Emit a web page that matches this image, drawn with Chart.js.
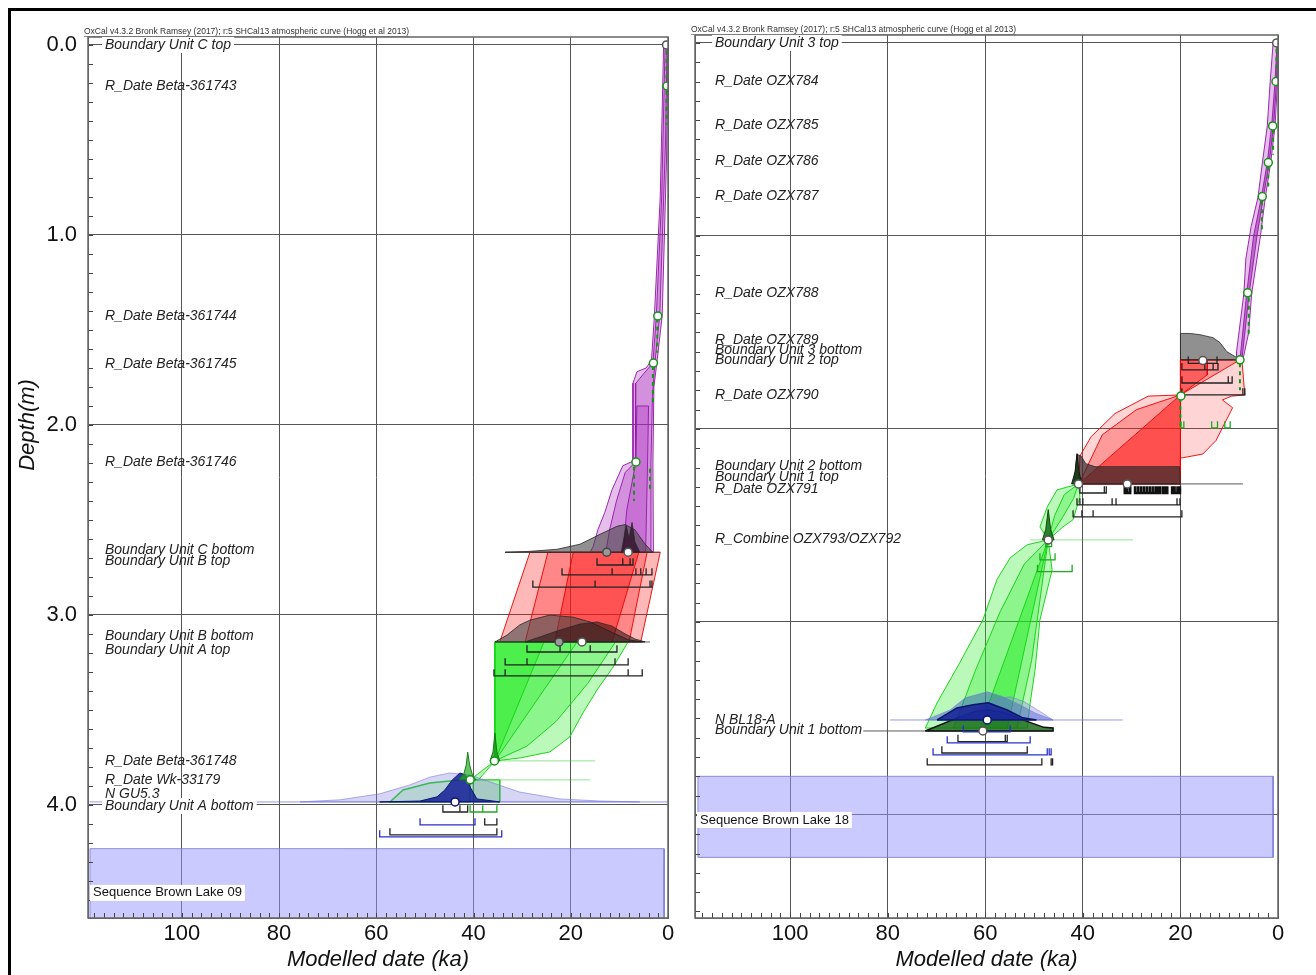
<!DOCTYPE html>
<html>
<head>
<meta charset="utf-8">
<script src="https://cdn.jsdelivr.net/npm/chart.js@4.4.1/dist/chart.umd.min.js"></script>
<style>
  html, body { margin: 0; padding: 0; background: #fff; overflow: hidden; }
  #frame { position: absolute; left: 8px; top: 8px; width: 1320px; height: 980px; border-left: 3px solid #000; border-top: 3px solid #000; }
  #wrapL { position: absolute; left: 0; top: 0; width: 680px; height: 975px; }
  #wrapR { position: absolute; left: 680px; top: 0; width: 636px; height: 975px; }
</style>
</head>
<body>
<div id="frame"></div>
<div id="wrapL"><canvas id="chartL"></canvas></div>
<div id="wrapR"><canvas id="chartR"></canvas></div>
<script>
const FONT = '"Liberation Sans", Arial, sans-serif';
const HEADER = 'OxCal v4.3.2 Bronk Ramsey (2017); r:5 SHCal13 atmospheric curve (Hogg et al 2013)';

// ---------- Brown Lake 09 (left panel) : [ka, depth m] ----------
const bl09Names = ['Boundary Unit C top', 'R_Date Beta-361743', 'R_Date Beta-361744', 'R_Date Beta-361745',
  'R_Date Beta-361746', 'Boundary Unit C bottom', 'Boundary Unit B top', 'Boundary Unit B bottom',
  'Boundary Unit A top', 'R_Date Beta-361748', 'R_Date Wk-33179', 'N GU5.3', 'Boundary Unit A bottom'];
const bl09NameDepth = [0.0, 0.216, 1.426, 1.679, 2.195, 2.658, 2.716, 3.111, 3.184, 3.768, 3.868, 3.942, 4.005];
const bl09SeqName = 'Sequence Brown Lake 09';
const bl09SeqDepth = 4.463;
const bl09Seq = [[118.9, 4.23], [0.8, 4.23], [0.8, 4.62], [118.9, 4.62]];

const bl09Purple95 = [[0, 0], [0.9, 0], [1.6, 0.8], [2.8, 1.426], [3.4, 1.66], [4.5, 1.70], [6.4, 1.72], [7.2, 1.78],
  [7.2, 2.19], [9.3, 2.215], [11.5, 2.34], [13.0, 2.46], [14.4, 2.55], [15.4, 2.64], [16.0, 2.67], [3.0, 2.67],
  [3.1, 2.2], [2.9, 1.8], [2.3, 1.674], [1.2, 1.426], [0.3, 0.6]];
const bl09Purple68 = [[0.2, 0], [0.6, 0], [1.3, 0.8], [2.4, 1.426], [3.1, 1.674], [5.0, 1.73], [6.6, 1.78], [6.7, 2.195],
  [8.8, 2.25], [10.6, 2.4], [12.0, 2.55], [12.8, 2.67], [3.6, 2.67], [3.5, 2.195], [3.2, 1.85], [2.7, 1.674],
  [1.7, 1.426], [0.5, 0.5]];
const bl09PurpleCore = [[6.4, 1.9], [6.6, 2.195], [8.5, 2.45], [9.2, 2.67], [4.6, 2.67], [4.2, 2.195], [4.0, 1.9]];

const bl09Red95 = [[28.4, 2.67], [1.6, 2.67], [5.6, 3.142], [34.6, 3.142]];
const bl09Red68 = [[24.7, 2.67], [4.3, 2.67], [8.0, 3.142], [29.4, 3.142]];
const bl09RedCore = [[19.5, 2.67], [6.0, 2.67], [11.5, 3.142], [23.3, 3.142]];

const bl09Green95 = [[35.6, 3.142], [8.2, 3.142], [11.3, 3.274], [14.6, 3.395], [17.5, 3.516], [20.2, 3.642],
  [24.3, 3.721], [30.5, 3.753], [35.6, 3.768]];
const bl09Green68 = [[35.6, 3.142], [10.8, 3.142], [16.5, 3.36], [23, 3.56], [29, 3.69], [35.6, 3.768]];
const bl09GreenCore = [[35.6, 3.142], [18.7, 3.142], [35.6, 3.768]];
const bl09GreenInner = [[35.6, 3.142], [25.5, 3.142], [35.6, 3.768]];
const bl09GreenLink = [[35.6, 3.768], [40.7, 3.868], [39.0, 3.868]];
const bl09GreenLow = [[40.7, 3.868], [43.4, 3.87], [49.0, 3.884], [54.5, 3.921], [57.2, 3.984], [40.7, 3.984]];
const bl09GreenBox = [[40.1, 3.868], [34.6, 3.868], [34.6, 3.984], [40.1, 3.984]];

// distributions: [ka, relative density]
const bl09DistCB = [[33.5, 0], [28.4, 0.03], [22.8, 0.1], [18.1, 0.27], [14.0, 0.6], [10.5, 0.87], [8.8, 0.93],
  [6.8, 0.75], [4.7, 0.27], [3.1, 0]];
const bl09DistCBdark = [[9.6, 0], [8.6, 0.9], [8.0, 0.45], [7.4, 1.0], [6.8, 0.35], [5.8, 0]];
const bl09DistBA1 = [[35.6, 0], [33.1, 0.23], [30.5, 0.57], [28.4, 0.73], [24.3, 0.9], [19.5, 0.83], [16.0, 0.67],
  [12.6, 0.4], [9.9, 0.2], [8.2, 0.07], [5.1, 0]];
const bl09DistBA2 = [[29.4, 0], [26.3, 0.17], [22.2, 0.4], [18.1, 0.6], [14.6, 0.67], [11.5, 0.53], [8.8, 0.27],
  [6.8, 0.1], [4.7, 0]];
const bl09DistWide = [[75.7, 0], [67.5, 0.07], [59.3, 0.27], [53.1, 0.57], [49.0, 0.83], [44.9, 0.97], [40.7, 0.9],
  [36.6, 0.67], [30.5, 0.33], [22.2, 0.1], [14.0, 0.03], [5.8, 0]];
const bl09DistNavy = [[59.3, 0], [51.0, 0.03], [47.5, 0.17], [45.9, 0.4], [44.4, 0.73], [42.8, 0.97], [41.6, 0.9],
  [40.7, 0.5], [39.3, 0.1], [34.6, 0]];
const bl09SpikeA = [[36.6, 0], [36.0, 0.3], [35.6, 0.93], [35.2, 0.3], [34.6, 0]];
const bl09SpikeB = [[43.0, 0], [42.0, 0.2], [41.5, 0.5], [41.2, 0.93], [40.8, 0.5], [40.2, 0.15], [39.5, 0]];
const bl09Base = [2.67, 3.142, 3.768, 3.868, 3.984];

const bl09GreyLines = [[[33.5, 2.67], [1.6, 2.67]], [[35.6, 3.142], [3.7, 3.142]]];
const bl09BlueLine = [[[119, 3.984], [0, 3.984]]];
const bl09ThinGreen = [[[35.6, 3.768], [15.0, 3.768]], [[40.7, 3.868], [16.0, 3.868]]];
const bl09Dashes = [[0.3, 0.03, 0.42], [2.2, 1.44, 1.62], [3.1, 1.69, 1.88], [7.0, 2.22, 2.40], [3.7, 2.23, 2.34]];

// ranges: [depth, from ka, to ka]
const bl09RangesBlack = [
  [2.737, 14.6, 9.3], [2.737, 9.3, 7.8], [2.737, 7.8, 7.2],
  [2.789, 21.8, 11.5], [2.789, 11.5, 6.6], [2.789, 6.6, 5.6], [2.789, 5.6, 4.5], [2.789, 4.5, 3.3],
  [2.853, 27.8, 15.0], [2.853, 15.0, 3.7], [2.853, 3.7, 3.3],
  [3.195, 29.0, 22.2], [3.195, 22.2, 16.0], [3.195, 16.0, 10.5],
  [3.263, 33.5, 29.0], [3.263, 29.0, 10.9], [3.263, 10.9, 8.2],
  [3.321, 35.8, 33.5], [3.321, 33.5, 8.2], [3.321, 8.2, 5.3],
  [4.037, 46.3, 42.8], [4.037, 42.8, 41.2], [4.105, 37.7, 35.2], [4.158, 57.2, 35.2]];
const bl09RangesBlue = [[4.105, 51.0, 39.7], [4.168, 59.3, 34.2]];
const bl09RangesGreen = [[4.037, 40.7, 38.1], [4.037, 38.1, 35.2]];

const bl09PtsRdate = [[0.2, 0.216], [2.1, 1.426], [3.0, 1.674], [6.6, 2.195], [35.7, 3.768], [40.7, 3.868]];
const bl09PtsBound = [[0.3, 0.0], [8.2, 2.67], [17.7, 3.142]];
const bl09PtsBoundDark = [[12.6, 2.67], [22.4, 3.142]];
const bl09PtsN = [[43.8, 3.984]];

// ---------- Brown Lake 18 (right panel) ----------
const bl18Names = ['Boundary Unit 3 top', 'R_Date OZX784', 'R_Date OZX785', 'R_Date OZX786', 'R_Date OZX787',
  'R_Date OZX788', 'R_Date OZX789', 'Boundary Unit 3 bottom', 'Boundary Unit 2 top', 'R_Date OZX790',
  'Boundary Unit 2 bottom', 'Boundary Unit 1 top', 'R_Date OZX791', 'R_Combine OZX793/OZX792', 'N BL18-A',
  'Boundary Unit 1 bottom'];
const bl18NameDepth = [0.0, 0.197, 0.425, 0.611, 0.793, 1.295, 1.539, 1.591, 1.642, 1.824, 2.192, 2.249, 2.311,
  2.570, 3.508, 3.56];
const bl18SeqName = 'Sequence Brown Lake 18';
const bl18SeqDepth = 4.026;
const bl18Seq = [[118.9, 3.80], [1.0, 3.80], [1.0, 4.22], [118.9, 4.22]];

const bl18Purple95 = [[0, 0], [1.0, 0], [1.6, 0.2], [2.2, 0.43], [3.2, 0.62], [4.1, 0.8], [5.5, 0.95], [6.6, 1.12],
  [7.0, 1.3], [8.5, 1.6], [8.5, 1.642], [7.2, 1.642], [6.0, 1.5], [5.4, 1.3], [3.6, 1.0], [2.6, 0.8], [1.5, 0.62],
  [0.6, 0.43], [0.1, 0.2]];
const bl18Purple68 = [[0.2, 0], [0.6, 0.2], [1.3, 0.43], [2.2, 0.62], [3.4, 0.8], [5.0, 1.0], [6.4, 1.295],
  [7.8, 1.642], [7.4, 1.642], [5.9, 1.295], [4.3, 1.0], [3.0, 0.8], [1.8, 0.62], [0.9, 0.43], [0.3, 0.2], [0.1, 0]];

const bl18RedOuter = [[20, 1.642], [7.4, 1.642], [6.8, 1.824], [9.5, 1.83], [11.4, 1.85], [9.3, 1.89], [12.7, 2.06],
  [15.4, 2.13], [19.6, 2.15], [20, 2.15], [20, 2.285], [40.8, 2.285], [40.6, 2.14], [38.3, 2.04], [33.4, 1.92],
  [26.6, 1.83], [20, 1.824]];
const bl18RedUpper = [[20, 1.642], [7.8, 1.642], [20, 1.824]];
const bl18RedUpperCore = [[20, 1.642], [14.5, 1.642], [14.5, 1.72], [20, 1.824]];
const bl18RedLower = [[20, 1.824], [29, 1.9], [36, 2.03], [40.8, 2.285], [20, 2.285]];
const bl18RedLowerCore = [[20, 1.824], [40.8, 2.285], [20, 2.285]];

const bl18GreenTop95 = [[40.9, 2.285], [45.3, 2.316], [47.3, 2.404], [48.8, 2.508], [47.1, 2.575], [44.1, 2.508],
  [42.0, 2.47], [40.6, 2.352]];
const bl18GreenTop68 = [[40.9, 2.285], [43.8, 2.34], [45.8, 2.45], [47.1, 2.575], [44.2, 2.46], [41.9, 2.36]];
const bl18Green95 = [[47.1, 2.575], [51.4, 2.60], [54.9, 2.668], [57.6, 2.78], [60.5, 2.99], [65.2, 3.21],
  [69.9, 3.42], [72.3, 3.55], [51.4, 3.55], [50.8, 3.42], [49.8, 3.25], [48.8, 2.99], [46.3, 2.73]];
const bl18Green68 = [[47.1, 2.575], [52, 2.7], [57, 2.95], [62, 3.25], [66.5, 3.55], [53.5, 3.55], [50.5, 3.2]];
const bl18GreenCore = [[47.1, 2.575], [61.1, 3.55], [55.5, 3.55]];

const bl18DistU2top = [[20.0, 0], [20.0, 0.87], [18.0, 0.87], [16.0, 0.83], [13.3, 0.73], [11.9, 0.57], [10.5, 0.27],
  [8.4, 0.07], [7.4, 0]];
const bl18DistU2bot = [[41.8, 0], [41.2, 0.97], [40.4, 0.93], [39.4, 0.67], [37.5, 0.57], [30, 0.57], [22, 0.57],
  [20.2, 0.57], [20.0, 0]];
const bl18SpikeU1 = [[42.3, 0], [41.6, 0.4], [41.2, 1.0], [40.8, 0.4], [40.2, 0]];
const bl18SpikeComb = [[48.3, 0], [47.6, 0.35], [47.1, 1.0], [46.6, 0.35], [45.9, 0]];
const bl18DistBlueA = [[72.3, 0], [67.2, 0.33], [64.1, 0.73], [59.6, 0.93], [56.4, 0.77], [52.9, 0.5], [49.8, 0.23],
  [46.1, 0]];
const bl18DistBlueB = [[66, 0], [62, 0.35], [57, 0.7], [54.9, 0.77], [52, 0.6], [49, 0.3], [46.1, 0]];
const bl18DistNavy = [[69.9, 0], [65.8, 0.4], [62.5, 0.5], [59.4, 0.57], [55.5, 0.33], [52.3, 0.07], [49.5, 0]];
const bl18DistBottom = [[72.3, 0], [67, 0.35], [62, 0.65], [59.6, 0.7], [56, 0.6], [52, 0.35], [48, 0.12],
  [46.1, 0.1], [46.1, 0]];
const bl18Base = [1.642, 2.285, 2.575, 3.508, 3.565];

const bl18GreyLines = [[[19.7, 1.642], [7.2, 1.642]], [[41.2, 2.285], [7.2, 2.285]], [[85, 3.565], [46.1, 3.565]]];
const bl18BlueLine = [[[79.5, 3.508], [31.8, 3.508]]];
const bl18ThinGreen = [[[50.8, 2.575], [29.7, 2.575]]];
const bl18Dashes = [[0.3, 0.03, 0.16], [1.0, 0.45, 0.58], [2.0, 0.64, 0.76], [3.3, 0.82, 0.98], [6.0, 1.32, 1.52],
  [7.8, 1.66, 1.80], [20, 1.84, 2.0]];

const bl18RangesBlack = [
  [1.66, 18.4, 15.4], [1.66, 15.4, 12.5],
  [1.694, 19.7, 15.0], [1.694, 15.0, 13.3], [1.694, 13.3, 12.3],
  [1.762, 19.7, 10.2], [1.762, 10.2, 9.4],
  [1.824, 19.7, 7.2], [1.824, 7.2, 6.8],
  [2.332, 40.6, 35.6], [2.332, 35.6, 35.2],
  [2.394, 41.2, 40.6], [2.394, 40.6, 40.0], [2.394, 40.0, 34.0], [2.394, 34.0, 33.2], [2.394, 33.2, 20.7], [2.394, 20.7, 20.1],
  [2.456, 42.0, 40.2], [2.456, 40.2, 37.9], [2.456, 37.9, 19.7],
  [3.62, 65.6, 55.9], [3.62, 55.9, 55.5], [3.679, 68.9, 51.4], [3.741, 71.9, 48.4], [3.741, 46.5, 46.2]];
const bl18DenseDepth = 2.332;
const bl18DenseTicks = [[31.4, 30.9, 30.3], [29.3, 28.7, 28.1, 27.5, 26.9, 26.3, 25.7, 25.1, 24.6, 24.2],
  [23.6, 23.1, 22.7], [21.7, 21.2, 20.6, 20.1]];
const bl18RangesBlue = [[3.57, 64.5, 54.9], [3.627, 67.8, 50.8], [3.689, 70.7, 47.3], [3.689, 46.9, 46.5]];
const bl18RangesGreen = [[2.61, 47.6, 46.4], [2.679, 48.8, 45.7], [2.739, 49.3, 42.2],
  [1.995, 19.9, 19.3], [1.995, 13.6, 12.4], [1.995, 10.9, 9.8]];

const bl18PtsRdate = [[0.41, 0.2], [1.09, 0.43], [1.99, 0.62], [3.22, 0.796], [6.21, 1.295], [7.79, 1.642], [19.9, 1.829]];
const bl18PtsBound = [[0.27, 0.0], [15.4, 1.646], [40.9, 2.285], [30.9, 2.285], [47.1, 2.575], [60.5, 3.565]];
const bl18PtsN = [[59.6, 3.508]];

// ---------- helpers ----------
const DIST_H = 0.157;
const TICK_H = 0.035;

const toPts = pairs => pairs.map(([x, y]) => ({x, y}));
const closed = pairs => toPts(pairs.concat([pairs[0]]));
function distShape(pairs, base) {
  const top = pairs.map(([x, p]) => [x, base - p * DIST_H]);
  return closed(top.concat([[pairs[pairs.length - 1][0], base], [pairs[0][0], base]]));
}
function rangePath(rows) {
  const out = [];
  rows.forEach(([d, a, b]) => {
    out.push({x: a, y: d - TICK_H}, {x: a, y: d}, {x: b, y: d}, {x: b, y: d - TICK_H}, {x: b, y: null});
  });
  return out;
}
function segPath(segs) {
  const out = [];
  segs.forEach(s => { s.forEach(([x, y]) => out.push({x, y})); out.push({x: s[0][0], y: null}); });
  return out;
}
function dashPath(rows) {
  return segPath(rows.map(([k, d1, d2]) => [[k, d1], [k, d2]]));
}
function denseRows(depth, groups) {
  const rows = [];
  groups.forEach(g => g.slice(1).forEach((t, i) => rows.push([depth, g[i], t])));
  return rows;
}

const area = (data, fill, line, width = 1) => ({data, showLine: true, fill: 'shape', backgroundColor: fill,
  borderColor: line, borderWidth: width, pointRadius: 0});
const stroke = (data, line, width = 1, dash = []) => ({data, showLine: true, fill: false, borderColor: line,
  borderWidth: width, borderDash: dash, pointRadius: 0});
const dots = (pairs, border, bg = '#fff') => ({data: toPts(pairs), showLine: false, pointRadius: 4,
  pointBackgroundColor: bg, pointBorderColor: border, pointBorderWidth: 1.5});

const SEQ_FILL = 'rgba(150, 150, 255, 0.5)', SEQ_LINE = 'rgba(120, 120, 210, 0.8)';
const PURPLE_F = 'rgba(170, 40, 190, 0.3)', PURPLE_L = 'rgba(150, 30, 170, 0.95)';
const RED_F = 'rgba(255, 20, 20, 0.3)', RED_L = 'rgba(235, 0, 0, 0.9)';
const GREEN_F = 'rgba(30, 235, 30, 0.3)', GREEN_L = 'rgba(20, 210, 20, 0.95)';
const GREY_F = 'rgba(70, 70, 70, 0.6)', GREY_L = 'rgba(40, 40, 40, 0.8)';
const DARK_F = 'rgba(40, 10, 30, 0.7)';
const NAVY_F = 'rgba(20, 30, 150, 0.85)', NAVY_L = 'rgba(10, 20, 110, 1)';
const LBLUE_F = 'rgba(120, 120, 220, 0.3)', LBLUE_L = 'rgba(120, 120, 220, 0.6)';
const BLUE_F = 'rgba(50, 80, 200, 0.45)';
const DGREEN_F = 'rgba(30, 110, 30, 0.85)';

function leftDatasets() {
  const [bCB, bBA, bA, bB, bN] = bl09Base;
  return [
    area(closed(bl09Seq), SEQ_FILL, SEQ_LINE),
    area(closed(bl09Purple95), PURPLE_F, PURPLE_L),
    area(closed(bl09Purple68), PURPLE_F, PURPLE_L),
    area(closed(bl09PurpleCore), PURPLE_F, PURPLE_L),
    area(closed(bl09Red95), RED_F, RED_L),
    area(closed(bl09Red68), RED_F, RED_L),
    area(closed(bl09RedCore), 'rgba(255, 20, 20, 0.45)', RED_L),
    area(closed(bl09Green95), GREEN_F, GREEN_L),
    area(closed(bl09Green68), GREEN_F, GREEN_L),
    area(closed(bl09GreenCore), GREEN_F, GREEN_L),
    area(closed(bl09GreenInner), 'rgba(30, 235, 30, 0.4)', GREEN_L),
    area(closed(bl09GreenLink), GREEN_F, GREEN_L),
    area(closed(bl09GreenLow), 'rgba(30, 235, 30, 0.2)', GREEN_L, 1.5),
    area(closed(bl09GreenBox), 'rgba(30, 200, 30, 0.3)', GREEN_L),
    stroke(segPath(bl09BlueLine), 'rgba(110, 110, 230, 0.7)'),
    stroke(segPath(bl09ThinGreen), 'rgba(40, 200, 40, 0.5)'),
    stroke(segPath(bl09GreyLines), 'rgba(60, 60, 60, 0.8)'),
    area(distShape(bl09DistWide, bN), LBLUE_F, LBLUE_L),
    area(distShape(bl09DistNavy, bN), NAVY_F, NAVY_L),
    area(distShape(bl09DistCB, bCB), GREY_F, GREY_L),
    area(distShape(bl09DistCBdark, bCB), DARK_F, GREY_L),
    area(distShape(bl09DistBA1, bBA), GREY_F, GREY_L),
    area(distShape(bl09DistBA2, bBA), 'rgba(40, 15, 15, 0.55)', GREY_L),
    area(distShape(bl09SpikeA, bA), 'rgba(30, 150, 30, 0.8)', 'rgba(20, 120, 20, 1)'),
    area(distShape(bl09SpikeB, bB), 'rgba(40, 170, 40, 0.7)', 'rgba(20, 130, 20, 1)'),
    stroke(dashPath(bl09Dashes), 'rgba(20, 150, 20, 1)', 2, [4, 4]),
    stroke(rangePath(bl09RangesBlack), '#222', 1.3),
    stroke(rangePath(bl09RangesBlue), 'rgba(40, 50, 200, 1)', 1.3),
    stroke(rangePath(bl09RangesGreen), 'rgba(30, 170, 30, 1)', 1.3),
    dots(bl09PtsRdate, 'rgba(20, 150, 20, 1)'),
    dots(bl09PtsBound, '#555'),
    dots(bl09PtsBoundDark, '#444', '#999'),
    dots(bl09PtsN, NAVY_L)
  ];
}

function rightDatasets() {
  const [bU2, bU1, bC, bN, bBot] = bl18Base;
  return [
    area(closed(bl18Seq), SEQ_FILL, SEQ_LINE),
    area(closed(bl18Purple95), PURPLE_F, PURPLE_L),
    area(closed(bl18Purple68), 'rgba(150, 20, 170, 0.5)', PURPLE_L),
    area(closed(bl18RedOuter), 'rgba(255, 40, 40, 0.2)', RED_L),
    area(closed(bl18RedUpper), RED_F, RED_L),
    area(closed(bl18RedUpperCore), 'rgba(255, 20, 20, 0.45)', RED_L),
    area(closed(bl18RedLower), RED_F, RED_L),
    area(closed(bl18RedLowerCore), 'rgba(255, 20, 20, 0.55)', RED_L),
    area(closed(bl18GreenTop95), GREEN_F, GREEN_L),
    area(closed(bl18GreenTop68), GREEN_F, GREEN_L),
    area(closed(bl18Green95), GREEN_F, GREEN_L),
    area(closed(bl18Green68), GREEN_F, GREEN_L),
    area(closed(bl18GreenCore), 'rgba(30, 235, 30, 0.45)', GREEN_L),
    stroke(segPath(bl18BlueLine), 'rgba(110, 110, 230, 0.7)'),
    stroke(segPath(bl18ThinGreen), 'rgba(40, 200, 40, 0.5)'),
    stroke(segPath(bl18GreyLines), 'rgba(60, 60, 60, 0.85)'),
    area(distShape(bl18DistU2top, bU2), GREY_F, GREY_L),
    area(distShape(bl18DistU2bot, bU1), 'rgba(50, 40, 40, 0.7)', GREY_L),
    area(distShape(bl18SpikeU1, bU1), 'rgba(20, 60, 20, 0.9)', '#111'),
    area(distShape(bl18SpikeComb, bC), 'rgba(20, 110, 20, 0.85)', 'rgba(10, 80, 10, 1)'),
    area(distShape(bl18DistBottom, bBot), DGREEN_F, '#111', 1.5),
    area(distShape(bl18DistBlueA, bN), BLUE_F, LBLUE_L),
    area(distShape(bl18DistBlueB, bN), LBLUE_F, LBLUE_L),
    area(distShape(bl18DistNavy, bN), NAVY_F, NAVY_L, 1.5),
    stroke(dashPath(bl18Dashes), 'rgba(20, 150, 20, 1)', 2, [4, 4]),
    stroke(rangePath(bl18RangesBlack), '#222', 1.3),
    stroke(rangePath(denseRows(bl18DenseDepth, bl18DenseTicks)), '#111', 2.6),
    stroke(rangePath(bl18RangesBlue), 'rgba(40, 50, 200, 1)', 1.3),
    stroke(rangePath(bl18RangesGreen), 'rgba(30, 170, 30, 1)', 1.3),
    dots(bl18PtsRdate, 'rgba(20, 150, 20, 1)'),
    dots(bl18PtsBound, '#555'),
    dots(bl18PtsN, NAVY_L)
  ];
}

// text, frame and minor ticks drawn on top of the scales
function oxPlugin(info) {
  return {
    id: 'ox',
    afterDraw(chart) {
      const {ctx, chartArea: a, scales: {x, y}} = chart;
      ctx.save();
      ctx.strokeStyle = '#444';
      ctx.lineWidth = 1;
      ctx.beginPath();
      for (let d = 0; d <= y.max + 1e-9; d += 0.1) {
        const py = Math.round(y.getPixelForValue(d)) + 0.5;
        ctx.moveTo(a.left, py); ctx.lineTo(a.left + 5, py);
      }
      for (let k = 0; k <= x.max; k += 2) {
        const px = Math.round(x.getPixelForValue(k)) + 0.5;
        ctx.moveTo(px, a.bottom); ctx.lineTo(px, a.bottom - 5);
      }
      ctx.stroke();
      ctx.strokeStyle = '#666';
      ctx.lineWidth = 1.5;
      ctx.strokeRect(a.left, a.top, a.right - a.left, a.bottom - a.top);

      // header
      ctx.font = '8.5px ' + FONT;
      ctx.fillStyle = '#333';
      ctx.textBaseline = 'bottom';
      ctx.textAlign = 'left';
      const hx = a.left - 4, hy = a.top - 1;
      ctx.fillText(HEADER, hx, hy);
      const hw = ctx.measureText(HEADER).width;
      ctx.lineWidth = 0.7;
      ctx.beginPath(); ctx.moveTo(hx, hy + 0.5); ctx.lineTo(hx + hw, hy + 0.5); ctx.stroke();

      // labels
      ctx.font = 'italic 14px ' + FONT;
      ctx.textBaseline = 'middle';
      info.names.forEach((n, i) => {
        const d = info.depths[i];
        const py = y.getPixelForValue(d);
        const tx = a.left + info.indent;
        if (Math.abs(d - Math.round(d)) < 0.03) {
          const w = ctx.measureText(n).width;
          ctx.fillStyle = '#fff';
          ctx.fillRect(tx - 3, py - 8, w + 6, 16);
        }
        ctx.fillStyle = '#222';
        ctx.fillText(n, tx, py);
      });

      // sequence name
      ctx.font = '13px ' + FONT;
      const sy = y.getPixelForValue(info.seqDepth);
      const sw = ctx.measureText(info.seqName).width;
      ctx.fillStyle = '#fff';
      ctx.fillRect(a.left + 2, sy - 8, sw + 6, 16);
      ctx.fillStyle = '#111';
      ctx.fillText(info.seqName, a.left + 5, sy);

      // y title
      if (info.yTitle) {
        ctx.translate(28, y.getPixelForValue(2.0));
        ctx.rotate(-Math.PI / 2);
        ctx.font = 'italic 22px ' + FONT;
        ctx.textAlign = 'center';
        ctx.fillStyle = '#111';
        ctx.fillText(info.yTitle, 0, 0);
      }
      ctx.restore();
    }
  };
}

function makeChart(id, o) {
  const datasets = o.datasets.map((d, i) => Object.assign(d, {order: -i}));
  return new Chart(document.getElementById(id), {
    type: 'scatter',
    data: {datasets},
    options: {
      responsive: true,
      maintainAspectRatio: false,
      animation: false,
      events: [],
      layout: {padding: {left: 0, right: o.padRight, top: o.padTop, bottom: 0}},
      plugins: {legend: {display: false}, tooltip: {enabled: false}},
      scales: {
        x: {
          type: 'linear', reverse: true, min: 0, max: o.xMax,
          ticks: {stepSize: 20, includeBounds: false, autoSkip: false, maxRotation: 0, padding: 3,
            color: '#111', font: {size: 22, family: FONT}},
          grid: {color: '#555', lineWidth: 1, drawTicks: false},
          border: {color: '#666', width: 1},
          title: {display: true, text: 'Modelled date (ka)', color: '#111',
            font: {size: 22, style: 'italic', family: FONT}, padding: {top: 0, bottom: 2}},
          afterFit: s => { s.height = 57; }
        },
        y: {
          type: 'linear', reverse: true, min: o.yMin, max: o.yMax,
          ticks: {display: o.showY, stepSize: 1, includeBounds: false, padding: 11, color: '#111',
            font: {size: 22, family: FONT}, callback: v => v.toFixed(1)},
          grid: {color: '#555', lineWidth: 1, drawTicks: false},
          border: {color: '#666', width: 1},
          afterFit: s => { s.width = o.yWidth; }
        }
      }
    },
    plugins: [oxPlugin(o.info)]
  });
}

makeChart('chartL', {
  datasets: leftDatasets(), xMax: 119.3, yMin: -0.042, yMax: 4.595,
  padRight: 12, padTop: 37, yWidth: 88, showY: true,
  info: {names: bl09Names, depths: bl09NameDepth, indent: 17, seqName: bl09SeqName, seqDepth: bl09SeqDepth, yTitle: 'Depth(m)'}
});
makeChart('chartR', {
  datasets: rightDatasets(), xMax: 119.5, yMin: -0.041, yMax: 4.534,
  padRight: 38, padTop: 35, yWidth: 15, showY: false,
  info: {names: bl18Names, depths: bl18NameDepth, indent: 20, seqName: bl18SeqName, seqDepth: bl18SeqDepth, yTitle: null}
});
</script>
</body>
</html>
